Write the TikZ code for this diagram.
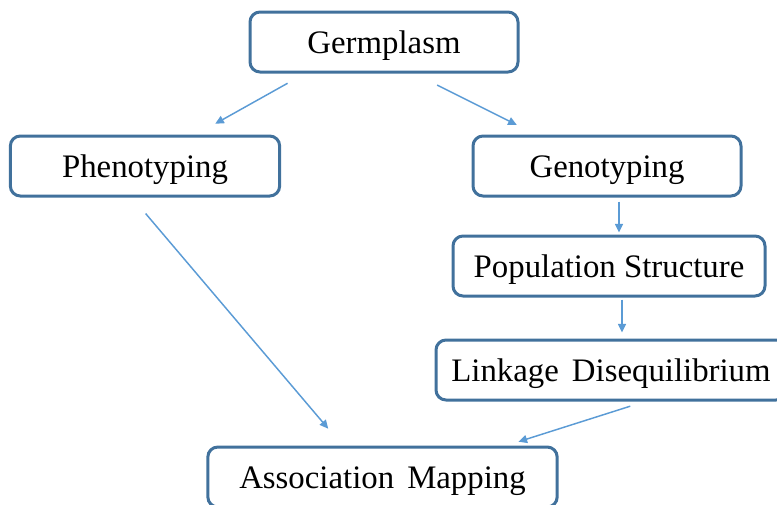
\documentclass[tikz,border=0pt]{standalone}
\usepackage{fontspec}
\setmainfont{Liberation Serif}
\usetikzlibrary{arrows.meta,calc}
\definecolor{boxline}{HTML}{41719C}
\definecolor{arrline}{HTML}{5B9BD5}
\begin{document}
\begin{tikzpicture}[x=0.75pt,y=-0.75pt,
    box/.style={draw=boxline,line width=2.25pt,rounded corners=7.5pt,fill=white,
      minimum height=45pt,inner sep=0pt,text height=21pt,text depth=4.5pt,
      font=\fontsize{24.6}{28}\selectfont},
    conn/.style={draw=arrline,line width=1.1pt,-{Triangle[length=6.5pt,width=6pt]}}]
      \useasboundingbox (0,0) rectangle (777,504);
      \clip (0,0) rectangle (777,504);
      \node[box,minimum width=201pt] (germ) at (384,42) {Germplasm};
      \node[box,minimum width=202pt] (pheno) at (145,166) {Phenotyping};
      \node[box,minimum width=201pt] (geno) at (607,166) {Genotyping};
      \node[box,minimum width=234pt] (pop) at (609,266) {Population Structure};
      \node[box,minimum width=262.5pt] (ld) at (611,370) {Linkage\hskip0.4em Disequilibrium};
      \node[box,minimum width=262pt] (am) at (382.5,477) {Association\hskip0.4em Mapping};
      \begin{scope}
        \draw[conn,shorten <=15pt,shorten >=16.5pt] ($(germ.south)+(-79,0)$) -- ($(pheno.north)+(51,0)$);
        \draw[conn,shorten <=19.4pt,shorten >=16.1pt] ($(germ.south)+(30,0)$) -- ($(geno.north)+(-71,0)$);
        \draw[conn,shorten <=3pt,shorten >=1.5pt] ($(geno.south)+(12,0)$) -- ($(pop.north)+(10,0)$);
        \draw[conn,shorten <=1.5pt,shorten >=4.5pt] ($(pop.south)+(13,0)$) -- ($(ld.north)+(11,0)$);
        \draw[conn,shorten <=11.6pt,shorten >=9.4pt] ($(ld.south)+(34,0)$) -- ($(am.north)+(124,0)$);
        \draw[conn,shorten <=15.8pt,shorten >=16.5pt] ($(pheno.south)+(-13,0)$) -- ($(am.north)+(-40,0)$);
      \end{scope}
    \end{tikzpicture}
\end{document}
